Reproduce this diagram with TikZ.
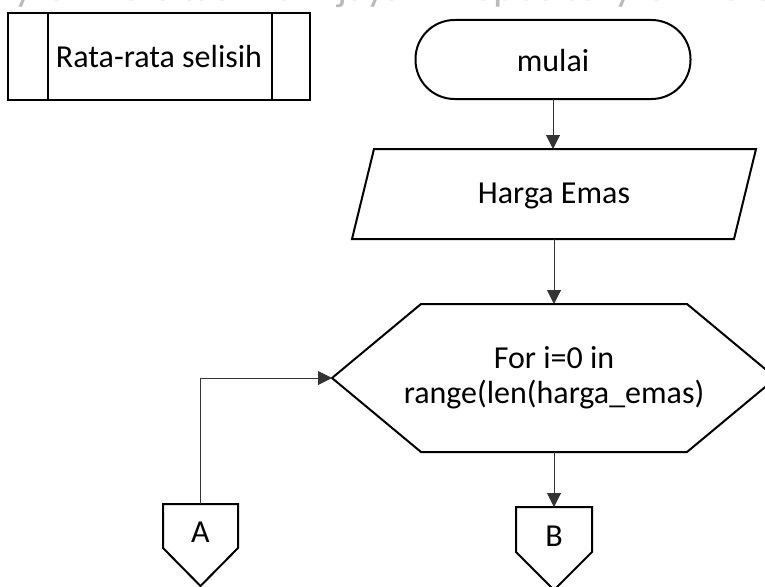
\documentclass[tikz,border=0pt]{standalone}
\usepackage{fontspec}
\setmainfont{Carlito}
\usetikzlibrary{arrows.meta,calc}
\definecolor{wmgray}{RGB}{185,185,185}
\tikzset{
  lbl/.style={inner sep=0pt, outer sep=0pt, align=center, font=\fontsize{32}{35}\selectfont},
  outline/.style={draw=black, line width=2pt, line join=miter},
  flow/.style={draw=black!80, line width=1pt, -{Triangle[length=14pt,width=14pt]}},
  wm/.style={inner sep=0pt, text=wmgray, font=\fontsize{42}{42}\selectfont}
}
\begin{document}
\begin{tikzpicture}[x=1pt,y=-1pt]
\useasboundingbox (0,0) rectangle (765,586);
\clip (0,0) rectangle (765,586);

% repository watermark along the top edge
\node[wm, anchor=base west] (wm) at (43,0.5)
  {\llap{Repository }Universitas Brawijaya\hspace{46pt}Repository Universitas Brawijaya};

% predefined process
\node[lbl, minimum width=302pt, minimum height=87pt] (pp) at (159,56.5) {Rata-rata selisih};
\draw[outline] (pp.north west) rectangle (pp.south east);
\draw[outline] ($(pp.north west)+(40,0)$) -- ($(pp.south west)+(40,0)$);
\draw[outline] ($(pp.north east)+(-38,0)$) -- ($(pp.south east)+(-38,0)$);

% terminal
\node[lbl, minimum width=275pt, minimum height=79pt] (start) at (553,61) {mulai};
\draw[outline, rounded corners=39pt] ($(start.north west)+(0,-1.5)$) rectangle ($(start.south east)+(0,-1.5)$);

% input
\node[lbl, minimum width=404pt, minimum height=90pt] (io) at (554,196) {Harga Emas};
\draw[outline] ($(io.north west)+(22,-2)$) -- ($(io.north east)+(0,-2)$)
  -- ($(io.south east)+(-22,-2)$) -- ($(io.south west)+(0,-2)$) -- cycle;

% loop (preparation hexagon)
\node[lbl, minimum width=444pt, minimum height=148pt] (loop) at (554,378)
  {For i=0 in\\range(len(harga\_emas)};
\draw[outline] (loop.west) -- ($(loop.north west)+(89,0)$) -- ($(loop.north east)+(-89,0)$)
  -- (loop.east) -- ($(loop.south east)+(-89,0)$) -- ($(loop.south west)+(89,0)$) -- cycle;

% off-page connectors
\node[lbl, minimum width=75pt, minimum height=58pt] (A) at (200.5,532) {A};
\draw[outline] ($(A.north west)+(0,1)$) -- ($(A.north east)+(0,1)$) -- ($(A.north east)+(0,45)$)
  -- ($(A.north)+(0,83)$) -- ($(A.north west)+(0,45)$) -- cycle;
\node[lbl, minimum width=76pt, minimum height=60pt] (B) at (554,536) {B};
\draw[outline] ($(B.north west)+(0,1)$) -- ($(B.north east)+(0,1)$) -- ($(B.north east)+(0,46)$)
  -- ($(B.north)+(0,84)$) -- ($(B.north west)+(0,46)$) -- cycle;

% connectors
\draw[flow] ($(start.south)+(0,-1.5)$) -- ($(start.south |- io.north)+(0,-2)$);
\draw[flow] ($(io.south)+(0,-2)$) -- (loop.north);
\draw[flow] ($(A.north)+(0,1)$) |- (loop.west);
\draw[flow] (loop.south) -- ($(B.north)+(0,1)$);
\end{tikzpicture}
\end{document}
